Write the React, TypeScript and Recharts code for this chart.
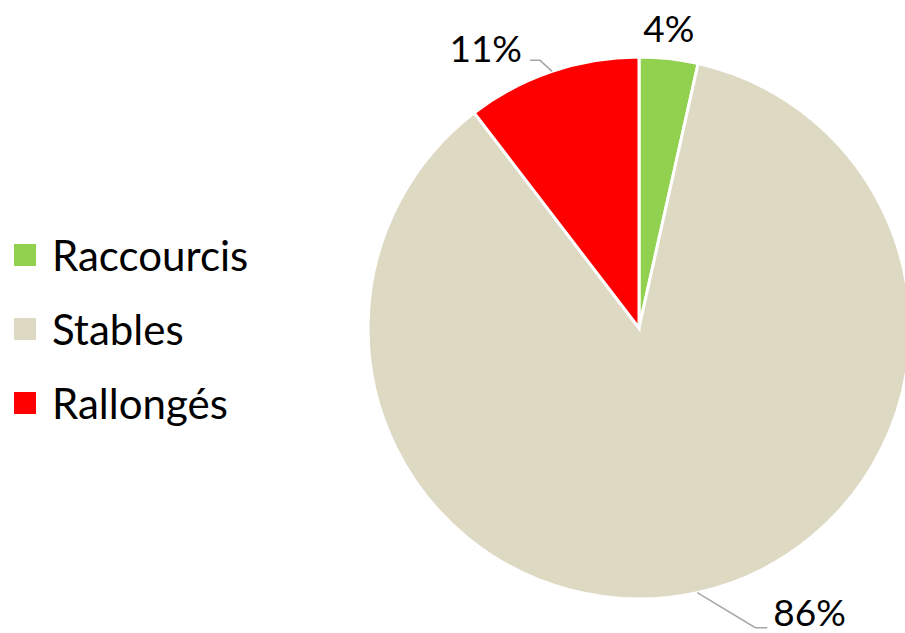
import React from "react";
import { PieChart, Pie, Cell, Legend } from "recharts";

const categories = ["Raccourcis", "Stables", "Rallongés"];
const shares = [3.5, 86.1, 10.4];
const percentLabels = ["4%", "86%", "11%"];
const COLORS = ["#92D050", "#DDD9C3", "#FF0000"];

const data = categories.map((name, i) => ({ name, value: shares[i] }));

const FONT = "Lato, 'Open Sans', sans-serif";
const RAD = Math.PI / 180;

// leader line elbows / text placement per slice (pixel offsets from the rim point)
const LABEL_LAYOUT = [
  { line: false, elbow: [0, 0], end: [0, 0], text: [0, -31], anchor: "middle" },
  { line: true, elbow: [58, 35], end: [70, 35], text: [76, 19], anchor: "start" },
  { line: true, elbow: [-12, -11], end: [-22, -11], text: [-30, -24], anchor: "end" },
];

const renderLabel = (props: any) => {
  const { cx, cy, midAngle, outerRadius, index } = props;
  const x0 = cx + outerRadius * Math.cos(-midAngle * RAD);
  const y0 = cy + outerRadius * Math.sin(-midAngle * RAD);
  const l = LABEL_LAYOUT[index];
  return (
    <g key={`lbl-${index}`}>
      {l.line && (
        <polyline
          points={`${x0},${y0} ${x0 + l.elbow[0]},${y0 + l.elbow[1]} ${x0 + l.end[0]},${y0 + l.end[1]}`}
          fill="none"
          stroke="#A6A6A6"
          strokeWidth={1.5}
        />
      )}
      <text
        x={x0 + l.text[0]}
        y={y0 + l.text[1]}
        textAnchor={l.anchor as any}
        dominantBaseline="central"
        fill="#000"
        fontSize={37}
        fontFamily={FONT}
      >
        {percentLabels[index]}
      </text>
    </g>
  );
};

const renderLegend = () => (
  <div style={{ fontFamily: FONT }}>
    {categories.map((name, i) => (
      <div
        key={name}
        style={{ display: "flex", alignItems: "center", height: 74 }}
      >
        <span
          style={{
            width: 22,
            height: 22,
            backgroundColor: COLORS[i],
            marginRight: 16,
            display: "inline-block",
          }}
        />
        <span style={{ fontSize: 42, color: "#000" }}>{name}</span>
      </div>
    ))}
  </div>
);

export default function App() {
  return (
    <div style={{ position: "absolute", left: 0, top: 0, background: "#fff" }}>
      <PieChart
        width={905}
        height={633}
        margin={{ top: 0, right: 0, bottom: 0, left: 0 }}
      >
        <Pie
          data={data}
          dataKey="value"
          nameKey="name"
          cx={639}
          cy={328}
          outerRadius={271}
          startAngle={90}
          endAngle={-270}
          stroke="#fff"
          strokeWidth={3}
          label={renderLabel}
          labelLine={false}
          isAnimationActive={false}
        >
          {data.map((entry, index) => (
            <Cell key={`cell-${index}`} fill={COLORS[index]} />
          ))}
        </Pie>
        <Legend
          content={renderLegend}
          layout="vertical"
          wrapperStyle={{ left: 14, top: 218, width: 300 }}
        />
      </PieChart>
    </div>
  );
}
